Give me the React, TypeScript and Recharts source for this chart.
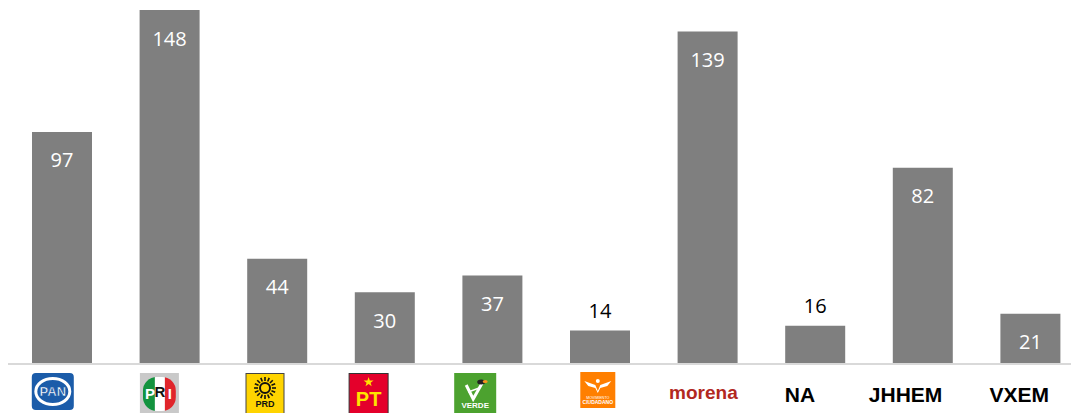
import { Bar, BarChart, LabelList, XAxis, YAxis } from 'recharts'

// Partidos / candidaturas y sus valores.
const partidos = ['PAN', 'PRI', 'PRD', 'PT', 'VERDE', 'MC', 'morena', 'NA', 'JHHEM', 'VXEM']
const valores = [97, 148, 44, 30, 37, 14, 139, 16, 82, 21]

const data = partidos.map((p, i) => ({ partido: p, valor: valores[i] }))

// Desplazamiento horizontal de cada logo respecto al centro de su barra.
const TICK_SHIFT = [-9, -10, -12, -16, -17, -2, -4, -15, -17, -11]

const LABEL_FONT = '"Open Sans", sans-serif'
const TICK_FONT = '"Liberation Sans", Arial, sans-serif'

function PartyTick(props: any) {
  const { x, y, payload } = props
  const i = payload.index
  const cx = x + TICK_SHIFT[i]
  const top = y + 9
  const name = partidos[i]

  if (name === 'PAN') {
    return (
      <g transform={`translate(${cx - 21},${top})`}>
        <rect width={42} height={37} rx={4} fill="#1b5ca9" />
        <ellipse cx={21} cy={18.5} rx={17} ry={13} fill="#1b5ca9" stroke="#fff" strokeWidth={3} />
        <text x={21} y={23} textAnchor="middle" fontFamily={TICK_FONT} fontWeight="bold" fontSize={13} fill="#fff" stroke="#1b5ca9" strokeWidth={0.6}>PAN</text>
      </g>
    )
  }
  if (name === 'PRI') {
    return (
      <g transform={`translate(${cx - 19.5},${top})`}>
        <defs>
          <clipPath id="priClip">
            <rect x={3} y={4} width={33} height={34} rx={14} />
          </clipPath>
        </defs>
        <rect width={39} height={42} fill="#c9c9c9" />
        <g clipPath="url(#priClip)">
          <rect x={3} y={4} width={12} height={34} fill="#12933e" />
          <rect x={15} y={4} width={10} height={34} fill="#fff" />
          <rect x={25} y={4} width={11} height={34} fill="#e0252b" />
        </g>
        <text x={10} y={26} textAnchor="middle" fontFamily={TICK_FONT} fontWeight="bold" fontSize={15} fill="#fff">P</text>
        <text x={20} y={24} textAnchor="middle" fontFamily={TICK_FONT} fontWeight="bold" fontSize={15} fill="#111">R</text>
        <text x={30} y={26} textAnchor="middle" fontFamily={TICK_FONT} fontWeight="bold" fontSize={15} fill="#fff">I</text>
      </g>
    )
  }
  if (name === 'PRD') {
    const rays = Array.from({ length: 16 }, (_, k) => (k * Math.PI) / 8)
    return (
      <g transform={`translate(${cx - 19.5},${top})`}>
        <rect x={0.5} y={0.5} width={38} height={42} fill="#ffd400" stroke="#444" strokeWidth={1} />
        <circle cx={19.5} cy={15} r={5} fill="none" stroke="#111" strokeWidth={2} />
        {rays.map((a, k) => (
          <line key={k} x1={19.5 + Math.cos(a) * 7} y1={15 + Math.sin(a) * 7} x2={19.5 + Math.cos(a) * 11} y2={15 + Math.sin(a) * 11} stroke="#111" strokeWidth={1.6} />
        ))}
        <text x={19.5} y={34} textAnchor="middle" fontFamily={TICK_FONT} fontWeight="bold" fontSize={9} fill="#111">PRD</text>
      </g>
    )
  }
  if (name === 'PT') {
    return (
      <g transform={`translate(${cx - 20},${top})`}>
        <rect x={0.5} y={0.5} width={39} height={42} fill="#e4002b" stroke="#333" strokeWidth={1} />
        <polygon points="20,4 21.2,7.5 25,7.5 22,9.7 23.1,13.2 20,11 16.9,13.2 18,9.7 15,7.5 18.8,7.5" fill="#ffe400" />
        <text x={20} y={33} textAnchor="middle" fontFamily={TICK_FONT} fontWeight="bold" fontSize={20} fill="#ffe400">PT</text>
      </g>
    )
  }
  if (name === 'VERDE') {
    return (
      <g transform={`translate(${cx - 21},${top})`}>
        <rect width={42} height={42} fill="#4ca22f" />
        <path d="M12,12 L19,26 L28,10" fill="none" stroke="#fff" strokeWidth={3} />
        <path d="M14,19 L25,15" stroke="#fff" strokeWidth={1.5} />
        <ellipse cx={27} cy={9} rx={4} ry={2.5} fill="#222" />
        <ellipse cx={31} cy={8.5} rx={2.5} ry={1.5} fill="#f7941d" />
        <text x={21} y={35} textAnchor="middle" fontFamily={TICK_FONT} fontWeight="bold" fontSize={8} fill="#fff">VERDE</text>
      </g>
    )
  }
  if (name === 'MC') {
    return (
      <g transform={`translate(${cx - 17.5},${top - 1})`}>
        <rect width={35} height={36} fill="#ff7f00" />
        <path d="M4,9 L15,13 L17.5,19 L20,13 L31,9 L27,14 L20,16 L17.5,21 L15,16 L8,14 Z" fill="#fff" />
        <circle cx={17.5} cy={9} r={2} fill="#fff" />
        <text x={17.5} y={27} textAnchor="middle" fontFamily={TICK_FONT} fontSize={3.6} fill="#fff">MOVIMIENTO</text>
        <text x={17.5} y={32} textAnchor="middle" fontFamily={TICK_FONT} fontWeight="bold" fontSize={5} fill="#fff">CIUDADANO</text>
      </g>
    )
  }
  if (name === 'morena') {
    return (
      <text x={cx} y={y + 35} textAnchor="middle" fontFamily={TICK_FONT} fontWeight="bold" fontSize={19} fill="#b2281f">morena</text>
    )
  }
  return (
    <text x={cx} y={y + 38} textAnchor="middle" fontFamily={TICK_FONT} fontWeight="bold" fontSize={21} fill="#000">{name}</text>
  )
}

function ValueLabel(props: any) {
  const { x, y, width, value } = props
  const inside = value >= 20
  return (
    <text
      x={x + width / 2}
      y={inside ? y + 28 : y - 20}
      textAnchor="middle"
      dominantBaseline="central"
      fontFamily={LABEL_FONT}
      fontSize={20}
      fill={inside ? '#fff' : '#000'}
    >
      {value}
    </text>
  )
}

export default function App() {
  return (
    <div style={{ position: 'absolute', top: 0, left: 0, width: 1071, height: 413, overflow: 'hidden', background: '#fff' }}>
      <div style={{ position: 'absolute', top: 0, left: 8 }}>
        <BarChart width={1076} height={413} data={data} margin={{ top: 10, right: 0, left: 0, bottom: 0 }}>
          <YAxis hide domain={[0, 148]} />
          <XAxis
            dataKey="partido"
            height={49}
            interval={0}
            tickLine={false}
            tickSize={0}
            tickMargin={0}
            axisLine={{ stroke: '#d9d9d9', strokeWidth: 2 }}
            tick={<PartyTick />}
          />
          <Bar dataKey="valor" fill="#7f7f7f" barSize={60} isAnimationActive={false}>
            <LabelList dataKey="valor" content={<ValueLabel />} />
          </Bar>
        </BarChart>
      </div>
    </div>
  )
}
